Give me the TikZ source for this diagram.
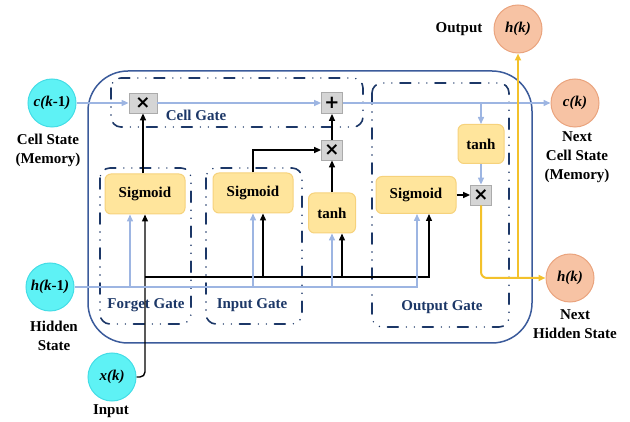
\documentclass[tikz,border=0pt]{standalone}
\usepackage{fontspec}
\setmainfont{Liberation Serif}
\newfontfamily\opsymbolfont{DejaVu Sans}
\usetikzlibrary{arrows.meta,calc}

\definecolor{cellblue}{HTML}{9DB5E2}
\definecolor{navy}{HTML}{1C3767}
\definecolor{frameblue}{HTML}{3B5B9B}
\definecolor{cyanfill}{HTML}{5EF2F5}
\definecolor{cyanedge}{HTML}{44DDE6}
\definecolor{peachfill}{HTML}{F7C3A4}
\definecolor{peachedge}{HTML}{EAA47E}
\definecolor{gatefill}{HTML}{FFE59C}
\definecolor{gateedge}{HTML}{F6D27C}
\definecolor{opfill}{HTML}{D5D5D5}
\definecolor{opedge}{HTML}{ABABAB}
\definecolor{outyellow}{HTML}{F3C12B}

\tikzset{
  bigtxt/.style={font=\fontsize{15}{19}\selectfont\bfseries},
  lbl/.style={bigtxt, align=center, inner sep=0pt},
  glbl/.style={bigtxt, text=navy, inner sep=0pt},
  instate/.style={circle, draw=cyanedge, fill=cyanfill, line width=1pt,
    minimum size=48pt, inner sep=0pt, bigtxt},
  outstate/.style={circle, draw=peachedge, fill=peachfill, line width=1pt,
    minimum size=48pt, inner sep=0pt, bigtxt},
  actbox/.style={rectangle, rounded corners=6pt, draw=gateedge, fill=gatefill,
    line width=1pt, minimum width=80pt, minimum height=40pt, inner sep=0pt, bigtxt},
  opbox/.style={rectangle, draw=opedge, fill=opfill, line width=0.8pt,
    minimum width=21pt, minimum height=20pt, inner sep=0pt,
    font=\opsymbolfont\bfseries\fontsize{18}{18}\selectfont},
  gatebox/.style={draw=navy, line width=1.6pt, rounded corners=10pt, line cap=round,
    dash pattern=on 11pt off 8pt on 0pt off 8pt on 0pt off 8pt},
  cellline/.style={draw=cellblue, line width=1.5pt, -{Triangle[length=7pt,width=6pt]}},
  hline/.style={draw=cellblue, line width=1.5pt},
  sigline/.style={draw=black, line width=1.4pt},
  yline/.style={draw=outyellow, line width=2pt},
  tip/.style={-{Triangle[length=7pt,width=6pt]}}
}

\begin{document}
\begin{tikzpicture}[x=1pt, y=-1pt]
\useasboundingbox (0,0) rectangle (630,422);

% LSTM cell frame and gate groups
\draw[draw=frameblue, line width=1.5pt, rounded corners=40pt] (88,71) rectangle (532,343);
\draw[gatebox] (111,78) rectangle (363,127);
\draw[gatebox] (100,168) rectangle (191,324);
\draw[gatebox] (206,168) rectangle (302,324);
\draw[gatebox] (372,83) rectangle (509,327);

\node[glbl] (lcell) at (196,115) {Cell Gate};
\node[glbl] (lforget) at (146,305) {Forget Gate};
\node[glbl] (linput) at (252,305) {Input Gate};
\node[glbl] (loutput) at (442,307) {Output Gate};

% states
\node[instate] (cprev) at (52,103) {\textit{c(k}-1\textit{)}};
\node[instate] (hprev) at (50,287) {\textit{h(k}-1\textit{)}};
\node[instate] (xin) at (112,377) {\textit{x(k)}};
\node[outstate] (cnext) at (575,103) {\textit{c(k)}};
\node[outstate] (hnext) at (570,278) {\textit{h(k)}};
\node[outstate] (hout) at (518,29) {\textit{h(k)}};

\node[lbl] (lcs) at (48,150) {Cell State\\(Memory)};
\node[lbl] (lhs) at (54,336) {Hidden\\State};
\node[lbl] (lin) at (111,411) {Input};
\node[lbl] (lncs) at (577,157) {Next\\Cell State\\(Memory)};
\node[lbl] (lnhs) at (575,324) {Next\\Hidden State};
\node[lbl] (lout) at (459,29) {Output};

% activations
\node[actbox] (fs) at (145,194) {Sigmoid};
\node[actbox] (is) at (253,193) {Sigmoid};
\node[actbox, minimum width=47pt] (it) at (332,213) {tanh};
\node[actbox, minimum height=37pt] (os) at (416,195) {Sigmoid};
\node[actbox, minimum width=46pt, minimum height=39pt] (ot) at (481,144) {tanh};

% pointwise operations
\node[opbox, minimum width=28pt] (cx) at (143,103) {×};
\node[opbox, minimum height=21pt] (plus) at (332,103) {+};
\node[opbox] (ix) at (332,150) {×};
\node[opbox] (ox) at (481,195) {×};

% cell state path
\draw[cellline] (cprev) -- (cx);
\draw[cellline] (cx) -- (plus);
\draw[cellline] (plus) -- (cnext);
\draw[cellline] (ot.north |- plus) -- (ot.north);
\draw[cellline] (ot) -- (ox);

% gate signals
\draw[sigline, tip] (fs.north -| cx) -- (cx.south);
\draw[sigline, tip] (is.north) |- (ix.west);
\draw[sigline, tip] (it) -- (ix);
\draw[sigline, tip] (ix) -- (plus);
\draw[sigline, tip] (os) -- (ox);

% input x(k) bus
\coordinate (busl) at (145,277);
\draw[sigline, tip, rounded corners=5pt] (xin.east) -| (fs.south);
\draw[sigline, tip] (busl) -| ($(os.south)+(13,0)$);
\coordinate (bis) at ($(is.south)+(10,0)$);
\draw[sigline, tip] (bis |- busl) -- (bis);
\coordinate (bit) at ($(it.south)+(10,0)$);
\draw[sigline, tip] (bit |- busl) -- (bit);

% hidden state h(k-1) bus
\draw[hline, tip] (hprev.east) -| ($(os.south)+(1,0)$);
\coordinate (hf) at ($(fs.south)+(-15,0)$);
\draw[hline, tip] (hf |- hprev.east) -- (hf);
\draw[hline, tip] (is.south |- hprev.east) -- (is.south);
\draw[hline, tip] (it.south |- hprev.east) -- (it.south);

% output h(k)
\draw[yline, tip, rounded corners=6pt] (ox.south) |- (hnext.west);
\draw[yline, tip] (hout.south |- hnext.west) -- (hout.south);
\end{tikzpicture}
\end{document}
